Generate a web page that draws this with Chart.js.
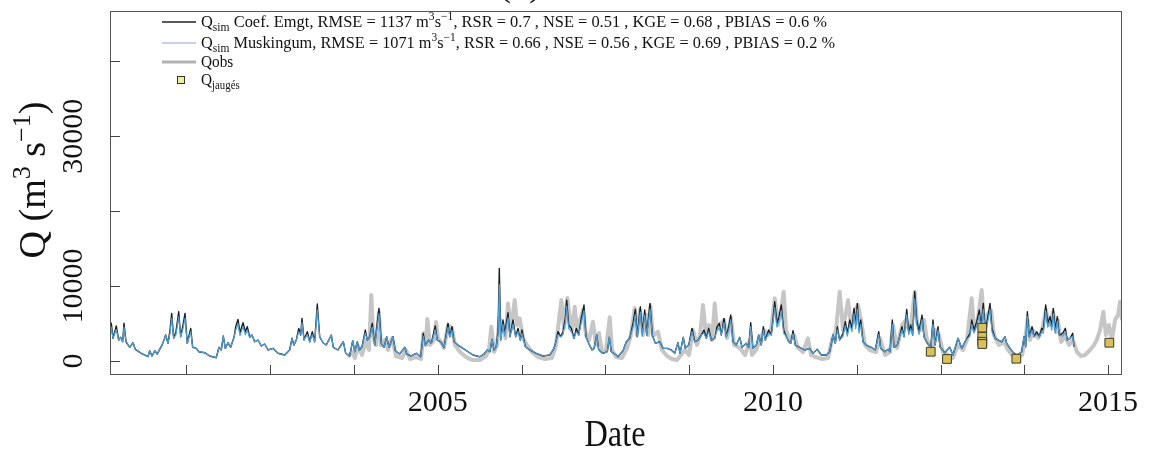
<!DOCTYPE html>
<html>
<head>
<meta charset="utf-8">
<script src="https://cdn.jsdelivr.net/npm/chart.js@4/dist/chart.umd.min.js"></script>
<style>
  html, body { margin: 0; padding: 0; background: #fff; }
  canvas { display: block; }
</style>
</head>
<body>
<canvas id="chart" width="1149" height="453"></canvas>
<script>
// simulated discharge (decimal year, m3/s)
const simYears = [
  2000.112, 2000.131, 2000.157, 2000.206, 2000.242, 2000.271, 2000.301, 2000.321, 2000.351, 2000.406,
  2000.455, 2000.489, 2000.579, 2000.679, 2000.704, 2000.738, 2000.779, 2000.817, 2000.853, 2000.888,
  2000.917, 2000.943, 2000.977, 2001.007, 2001.032, 2001.062, 2001.096, 2001.137, 2001.166, 2001.196,
  2001.231, 2001.265, 2001.316, 2001.345, 2001.399, 2001.435, 2001.524, 2001.599, 2001.697, 2001.738,
  2001.772, 2001.802, 2001.832, 2001.872, 2001.912, 2001.962, 2001.987, 2002.021, 2002.051, 2002.096,
  2002.130, 2002.160, 2002.196, 2002.230, 2002.270, 2002.320, 2002.369, 2002.419, 2002.469, 2002.543,
  2002.618, 2002.718, 2002.792, 2002.827, 2002.856, 2002.891, 2002.927, 2002.956, 2002.976, 2003.006,
  2003.055, 2003.091, 2003.129, 2003.165, 2003.204, 2003.240, 2003.289, 2003.338, 2003.413, 2003.443,
  2003.513, 2003.592, 2003.628, 2003.687, 2003.732, 2003.762, 2003.801, 2003.831, 2003.871, 2003.920,
  2003.950, 2003.986, 2004.024, 2004.060, 2004.124, 2004.159, 2004.199, 2004.239, 2004.274, 2004.333,
  2004.368, 2004.433, 2004.508, 2004.538, 2004.606, 2004.681, 2004.746, 2004.785, 2004.815, 2004.866,
  2004.905, 2004.964, 2004.994, 2005.045, 2005.094, 2005.154, 2005.179, 2005.213, 2005.243, 2005.303,
  2005.377, 2005.452, 2005.527, 2005.626, 2005.691, 2005.740, 2005.780, 2005.810, 2005.840, 2005.874,
  2005.899, 2005.919, 2005.940, 2005.974, 2005.999, 2006.049, 2006.078, 2006.123, 2006.163, 2006.198,
  2006.232, 2006.257, 2006.307, 2006.372, 2006.471, 2006.571, 2006.671, 2006.735, 2006.769, 2006.794,
  2006.835, 2006.869, 2006.903, 2006.924, 2006.954, 2006.993, 2007.033, 2007.067, 2007.103, 2007.142,
  2007.182, 2007.212, 2007.252, 2007.302, 2007.331, 2007.372, 2007.402, 2007.466, 2007.530, 2007.560,
  2007.590, 2007.664, 2007.689, 2007.764, 2007.813, 2007.864, 2007.913, 2007.948, 2007.977, 2008.022,
  2008.052, 2008.088, 2008.118, 2008.167, 2008.201, 2008.246, 2008.311, 2008.361, 2008.425, 2008.485,
  2008.535, 2008.584, 2008.614, 2008.663, 2008.693, 2008.744, 2008.793, 2008.834, 2008.883, 2008.932,
  2008.972, 2009.007, 2009.042, 2009.081, 2009.132, 2009.166, 2009.200, 2009.230, 2009.271, 2009.305,
  2009.341, 2009.371, 2009.405, 2009.454, 2009.505, 2009.539, 2009.603, 2009.639, 2009.669, 2009.703,
  2009.752, 2009.788, 2009.827, 2009.857, 2009.887, 2009.937, 2009.976, 2010.027, 2010.061, 2010.091,
  2010.125, 2010.161, 2010.200, 2010.236, 2010.266, 2010.300, 2010.334, 2010.400, 2010.474, 2010.549,
  2010.598, 2010.662, 2010.722, 2010.797, 2010.847, 2010.897, 2010.931, 2010.961, 2010.996, 2011.046,
  2011.080, 2011.110, 2011.146, 2011.180, 2011.210, 2011.235, 2011.259, 2011.284, 2011.310, 2011.344,
  2011.393, 2011.468, 2011.527, 2011.578, 2011.608, 2011.668, 2011.717, 2011.747, 2011.781, 2011.806,
  2011.856, 2011.896, 2011.926, 2011.956, 2011.996, 2012.026, 2012.056, 2012.085, 2012.115, 2012.145,
  2012.179, 2012.224, 2012.254, 2012.303, 2012.354, 2012.388, 2012.418, 2012.463, 2012.492, 2012.563,
  2012.637, 2012.686, 2012.761, 2012.816, 2012.880, 2012.940, 2012.965, 2013.000, 2013.040, 2013.079,
  2013.104, 2013.138, 2013.168, 2013.198, 2013.238, 2013.268, 2013.313, 2013.362, 2013.413, 2013.462,
  2013.487, 2013.537, 2013.586, 2013.646, 2013.711, 2013.746, 2013.771, 2013.795, 2013.825, 2013.865,
  2013.895, 2013.935, 2013.974, 2014.010, 2014.033, 2014.069, 2014.099, 2014.133, 2014.159, 2014.182,
  2014.212, 2014.242, 2014.272, 2014.323, 2014.362, 2014.391, 2014.432, 2014.472, 2014.491,
];
const qCoefEmgt = [
  3240, 5030, 3030, 4670, 2800, 3160, 2570, 5030, 2570, 1830,
  2440, 1560, 1030, 570, 1370, 670, 1370, 930, 1560, 2130,
  2800, 3470, 2360, 4130, 6360, 3030, 3910, 6570, 3240, 4570,
  6360, 2360, 4360, 1830, 1690, 1240, 1110, 670, 440, 1830,
  1470, 3330, 1690, 2440, 1830, 3160, 4570, 5560, 3770, 5110,
  3910, 4570, 3160, 3470, 2570, 2800, 2000, 2270, 1470, 1690,
  1030, 800, 1470, 3030, 2130, 2800, 4360, 3470, 5690, 2800,
  3910, 2570, 3910, 2570, 7600, 3240, 2440, 2130, 3470, 1830,
  1470, 2570, 1030, 670, 2710, 1240, 2570, 1470, 1910, 4130,
  2800, 3240, 5030, 2130, 7030, 2360, 1830, 3240, 1830, 3240,
  1370, 930, 1830, 930, 670, 1030, 570, 3690, 2130, 2800,
  2360, 4670, 2800, 2570, 1830, 5030, 3240, 4570, 2570, 2130,
  1690, 1240, 800, 570, 930, 1470, 1240, 2890, 1470, 1910,
  3910, 12360, 2800, 5470, 3690, 6440, 3240, 5470, 3240, 4360,
  2800, 4130, 1910, 1470, 1030, 670, 800, 1690, 2800, 3910,
  3240, 3910, 5690, 8130, 4800, 4360, 3030, 4360, 3470, 5690,
  7470, 3240, 2360, 1470, 1690, 3470, 1470, 1030, 1240, 3160,
  1240, 800, 570, 1370, 2570, 3030, 5030, 6890, 3240, 7240,
  3690, 6800, 3470, 7690, 3470, 2360, 2570, 1690, 1690, 1470,
  1030, 2440, 1030, 3160, 1690, 2130, 4360, 2570, 2800, 3470,
  4130, 3030, 4360, 2800, 3030, 4570, 5030, 3470, 5690, 3240,
  4570, 6130, 2570, 2130, 3160, 1830, 2360, 1830, 5110, 1690,
  2130, 3470, 2130, 4570, 2800, 4130, 3470, 7910, 5030, 5910,
  7470, 4130, 3240, 2570, 2360, 4040, 2130, 1830, 1470, 1690,
  1030, 1560, 800, 800, 1240, 3470, 2360, 4570, 2800, 3690,
  5240, 3690, 5470, 4360, 7030, 4800, 7690, 4130, 5470, 2570,
  2130, 1830, 1470, 3910, 1690, 1240, 1560, 1240, 5470, 1830,
  2130, 3470, 4570, 3240, 6890, 3910, 4800, 3470, 9240, 5470,
  3910, 6130, 3240, 2360, 1830, 5470, 2130, 4570, 1910, 1110,
  1830, 800, 3030, 1690, 2800, 3690, 5470, 4130, 5240, 6800,
  4570, 7690, 4130, 5470, 7690, 4360, 3030, 2800, 2570, 3240,
  2360, 1690, 1110, 800, 1240, 3240, 1910, 6570, 3240, 4570,
  3240, 3910, 3240, 4360, 4130, 7470, 5030, 5910, 4570, 7030,
  4130, 5910, 3470, 3690, 4360, 2800, 3030, 3690, 1910,
];
const qMuskingum = [
  3240, 4530, 3030, 4200, 2800, 3160, 2570, 4530, 2570, 1830,
  2440, 1560, 1030, 570, 1370, 670, 1370, 930, 1560, 2130,
  2800, 3470, 2360, 3720, 5720, 3030, 3520, 5910, 3240, 4110,
  5720, 2360, 3920, 1830, 1690, 1240, 1110, 670, 440, 1830,
  1470, 3330, 1690, 2440, 1830, 3160, 4110, 5000, 3390, 4600,
  3520, 4110, 3160, 3470, 2570, 2800, 2000, 2270, 1470, 1690,
  1030, 800, 1470, 3030, 2130, 2800, 3920, 3470, 5120, 2800,
  3520, 2570, 3520, 2570, 6840, 3240, 2440, 2130, 3470, 1830,
  1470, 2570, 1030, 670, 2710, 1240, 2570, 1470, 1910, 3720,
  2800, 3240, 4530, 2130, 6330, 2360, 1830, 3240, 1830, 3240,
  1370, 930, 1830, 930, 670, 1030, 570, 3320, 2130, 2800,
  2360, 4200, 2800, 2570, 1830, 4530, 3240, 4110, 2570, 2130,
  1690, 1240, 800, 570, 930, 1470, 1240, 2890, 1470, 1910,
  3520, 10200, 2800, 4920, 3320, 5800, 3240, 4920, 3240, 3920,
  2800, 3720, 1910, 1470, 1030, 670, 800, 1690, 2800, 3520,
  3240, 3520, 5120, 7320, 4320, 3920, 3030, 3920, 3470, 5120,
  6720, 3240, 2360, 1470, 1690, 3470, 1470, 1030, 1240, 3160,
  1240, 800, 570, 1370, 2570, 3030, 4530, 6200, 3240, 6520,
  3320, 6120, 3470, 6920, 3470, 2360, 2570, 1690, 1690, 1470,
  1030, 2440, 1030, 3160, 1690, 2130, 3920, 2570, 2800, 3470,
  3720, 3030, 3920, 2800, 3030, 4110, 4530, 3470, 5120, 3240,
  4110, 5520, 2570, 2130, 3160, 1830, 2360, 1830, 4600, 1690,
  2130, 3470, 2130, 4110, 2800, 3720, 3470, 7120, 4530, 5320,
  6720, 3720, 3240, 2570, 2360, 3640, 2130, 1830, 1470, 1690,
  1030, 1560, 800, 800, 1240, 3470, 2360, 4110, 2800, 3320,
  4720, 3320, 4920, 3920, 6330, 4320, 6920, 3720, 4920, 2570,
  2130, 1830, 1470, 3520, 1690, 1240, 1560, 1240, 4920, 1830,
  2130, 3470, 4110, 3240, 6200, 3520, 4320, 3470, 8320, 4920,
  3520, 5520, 3240, 2360, 1830, 4920, 2130, 4110, 1910, 1110,
  1830, 800, 3030, 1690, 2800, 3320, 4920, 3720, 4720, 6120,
  4110, 6920, 3720, 4920, 6920, 3920, 3030, 2800, 2570, 3240,
  2360, 1690, 1110, 800, 1240, 3240, 1910, 5910, 3240, 4110,
  3240, 3520, 3240, 3920, 3720, 6720, 4530, 5320, 4110, 6330,
  3720, 5320, 3470, 3320, 3920, 2800, 3030, 3320, 1910,
];

// observed discharge
const obsYears = [
  2003.662, 2003.722, 2003.766, 2003.811, 2003.871, 2003.931, 2003.975, 2004.010, 2004.035, 2004.080,
  2004.124, 2004.154, 2004.214, 2004.259, 2004.318, 2004.378, 2004.468, 2004.527, 2004.587, 2004.676,
  2004.751, 2004.788, 2004.825, 2004.845, 2004.885, 2004.945, 2004.975, 2005.004, 2005.049, 2005.094,
  2005.154, 2005.213, 2005.258, 2005.333, 2005.422, 2005.512, 2005.631, 2005.720, 2005.765, 2005.800,
  2005.840, 2005.885, 2005.922, 2005.974, 2006.011, 2006.049, 2006.093, 2006.149, 2006.183, 2006.223,
  2006.272, 2006.332, 2006.407, 2006.496, 2006.601, 2006.705, 2006.765, 2006.809, 2006.844, 2006.884,
  2006.933, 2006.973, 2007.003, 2007.044, 2007.078, 2007.123, 2007.167, 2007.212, 2007.257, 2007.316,
  2007.361, 2007.406, 2007.451, 2007.510, 2007.566, 2007.600, 2007.660, 2007.749, 2007.824, 2007.883,
  2007.938, 2007.973, 2008.018, 2008.062, 2008.107, 2008.137, 2008.174, 2008.211, 2008.286, 2008.346,
  2008.420, 2008.495, 2008.569, 2008.629, 2008.689, 2008.748, 2008.808, 2008.868, 2008.913, 2008.957,
  2009.002, 2009.047, 2009.092, 2009.132, 2009.166, 2009.211, 2009.271, 2009.315, 2009.375, 2009.420,
  2009.509, 2009.584, 2009.658, 2009.688, 2009.748, 2009.807, 2009.867, 2009.927, 2009.972, 2010.027,
  2010.076, 2010.121, 2010.161, 2010.195, 2010.255, 2010.315, 2010.374, 2010.449, 2010.523, 2010.568,
  2010.643, 2010.732, 2010.822, 2010.881, 2010.941, 2010.996, 2011.046, 2011.120, 2011.165, 2011.225,
  2011.269, 2011.314, 2011.374, 2011.448, 2011.538, 2011.597, 2011.672, 2011.747, 2011.791, 2011.851,
  2011.926, 2011.985, 2012.030, 2012.060, 2012.115, 2012.149, 2012.209, 2012.254, 2012.298, 2012.373,
  2012.418, 2012.477, 2012.537, 2012.612, 2012.686, 2012.761, 2012.835, 2012.895, 2012.965, 2013.000,
  2013.059, 2013.114, 2013.149, 2013.193, 2013.253, 2013.298, 2013.372, 2013.447, 2013.507, 2013.581,
  2013.656, 2013.716, 2013.760, 2013.798, 2013.835, 2013.880, 2013.954, 2014.014, 2014.073, 2014.118,
  2014.178, 2014.223, 2014.252, 2014.297, 2014.357, 2014.417, 2014.476, 2014.536, 2014.596, 2014.655,
  2014.730, 2014.790, 2014.830, 2014.879, 2014.928, 2014.968, 2015.013, 2015.058, 2015.103, 2015.148,
  2015.177, 2015.207,
];
const qObs = [
  530, 1200, 400, 2000, 800, 2800, 1470, 8800, 3470, 2130,
  6530, 2130, 2800, 1470, 3070, 670, 400, 1470, 270, 530,
  270, 3730, 2130, 5600, 2130, 2800, 5200, 3070, 2530, 1730,
  4800, 4400, 2130, 1200, 530, 130, 130, 670, 1470, 4570,
  1200, 2130, 5730, 4800, 3070, 7690, 4130, 8130, 4800, 5690,
  3070, 2130, 1200, 530, 270, 400, 2130, 5470, 8130, 4400,
  8400, 5470, 4130, 7240, 4130, 5470, 6800, 3470, 2800, 5240,
  2130, 3730, 1200, 1470, 5830, 1470, 530, 400, 1730, 3470,
  7030, 3470, 6800, 3470, 6130, 3470, 7330, 3330, 3910, 1470,
  670, 270, 130, 800, 1470, 800, 4130, 2130, 3470, 7470,
  3470, 4800, 2800, 7690, 4130, 4800, 5470, 3070, 5730, 2130,
  1730, 800, 2800, 800, 1470, 2800, 4130, 3470, 4130, 8360,
  4800, 6800, 9240, 4130, 2800, 3470, 1730, 1200, 3030, 800,
  530, 270, 400, 2800, 4130, 9240, 4130, 8130, 4800, 6800,
  7470, 5470, 2130, 1470, 1200, 3070, 800, 1200, 4800, 1730,
  4800, 5470, 4130, 4800, 9240, 5200, 4130, 5470, 2800, 1730,
  4130, 3470, 1200, 800, 400, 2130, 1470, 2800, 8360, 4130,
  5730, 9470, 4800, 6130, 6800, 3470, 2130, 2530, 1470, 670,
  400, 800, 2800, 5470, 2800, 4130, 3070, 4130, 6800, 4800,
  6530, 3870, 5470, 2530, 3330, 2130, 2800, 1200, 670, 800,
  1470, 2130, 2800, 4130, 6570, 3470, 4800, 2800, 5470, 6130,
  7910, 5470,
];

// gauged discharge measurements
const gaugedYears = [2012.354, 2012.597, 2013.123, 2013.123, 2013.123, 2013.123, 2013.631, 2015.018];
const qGauged = [1240, 270, 4440, 3240, 2570, 2270, 310, 2440];

const xTickYears = [2001.25, 2002.5, 2003.75, 2005, 2006.25, 2007.5, 2008.75, 2010, 2011.25, 2012.5, 2013.75, 2015];
const xLabelYears = [2005, 2010, 2015];
const yTicks = [0, 10000, 20000, 30000, 40000];
const yLabels = [0, 10000, 30000];

const legendRows = [
  [["Q"], ["sim", "sub"], [" Coef. Emgt, RMSE = 1137 m"], ["3", "sup"], ["s"], ["\u22121", "sup"],
   [", RSR = 0.7 , NSE = 0.51 , KGE = 0.68 , PBIAS = 0.6 %"]],
  [["Q"], ["sim", "sub"], [" Muskingum, RMSE = 1071 m"], ["3", "sup"], ["s"], ["\u22121", "sup"],
   [", RSR = 0.66 , NSE = 0.56 , KGE = 0.69 , PBIAS = 0.2 %"]],
  [["Qobs"]],
  [["Q"], ["jaugés", "sub"]],
];

const SERIF = '"Liberation Serif", "Times New Roman", serif';
const pts = (xs, ys) => xs.map((x, i) => ({ x, y: ys[i] }));

function partFont(size, kind) {
  return `${kind ? Math.round(size * 0.68) : size}px ${SERIF}`;
}

function richWidth(ctx, parts, size) {
  let w = 0;
  for (const [t, kind] of parts) {
    ctx.font = partFont(size, kind);
    w += ctx.measureText(t).width;
  }
  return w;
}

// draws mixed normal / sub / sup text; y is the baseline
function drawRich(ctx, parts, size, x, y, align, sx) {
  const w = richWidth(ctx, parts, size) * sx;
  const startX = align === "center" ? x - w / 2 : x;
  ctx.save();
  ctx.translate(startX, y);
  ctx.scale(sx, 1);
  ctx.textBaseline = "alphabetic";
  ctx.textAlign = "left";
  let px = 0;
  for (const [t, kind] of parts) {
    ctx.font = partFont(size, kind);
    const dy = kind === "sup" ? -size * 0.4 : kind === "sub" ? size * 0.22 : 0;
    ctx.fillText(t, px, dy);
    px += ctx.measureText(t).width;
  }
  ctx.restore();
}

const frame = {
  id: "frame",
  afterDraw(chart) {
    const ctx = chart.ctx;
    const { left, right, top, bottom } = chart.chartArea;
    const xs = chart.scales.x;
    const ys = chart.scales.y;
    ctx.save();
    ctx.fillStyle = "#111";

    // cut-off panel title
    ctx.font = `40px ${SERIF}`;
    ctx.textAlign = "center";
    ctx.fillText("(a)", 520, -5);

    // box
    ctx.strokeStyle = "#555";
    ctx.lineWidth = 1;
    ctx.strokeRect(left + 0.5, top + 0.5, right - left - 1, bottom - top - 1);

    // inward ticks
    ctx.strokeStyle = "#444";
    ctx.beginPath();
    for (const v of yTicks) {
      const py = Math.round(ys.getPixelForValue(v)) + 0.5;
      ctx.moveTo(left, py);
      ctx.lineTo(left + 10, py);
    }
    for (const v of xTickYears) {
      const px = Math.round(xs.getPixelForValue(v)) + 0.5;
      ctx.moveTo(px, bottom);
      ctx.lineTo(px, bottom - 10);
    }
    ctx.stroke();

    // tick labels
    ctx.textAlign = "center";
    ctx.textBaseline = "alphabetic";
    ctx.font = `30px ${SERIF}`;
    for (const v of xLabelYears) {
      ctx.fillText(String(v), xs.getPixelForValue(v), 411);
    }
    for (const v of yLabels) {
      ctx.save();
      ctx.translate(82, ys.getPixelForValue(v));
      ctx.rotate(-Math.PI / 2);
      ctx.fillText(String(v), 0, 0);
      ctx.restore();
    }

    // axis titles
    drawRich(ctx, [["Date"]], 38, 615, 446, "center", 0.85);
    ctx.save();
    ctx.translate(45, 180);
    ctx.rotate(-Math.PI / 2);
    drawRich(ctx, [["Q (m"], ["3", "sup"], [" s"], ["\u22121", "sup"], [")"]], 38, 0, 0, "center", 1);
    ctx.restore();

    // legend
    const rowY = [22, 43, 62, 80];
    const fitW = [626, 634, 0, 0];
    const size = 17;
    legendRows.forEach((parts, i) => {
      const natural = richWidth(ctx, parts, size);
      const sx = fitW[i] ? fitW[i] / natural : 0.9;
      ctx.fillStyle = "#111";
      drawRich(ctx, parts, size, 201, rowY[i] + 5, "left", sx);
    });
    ctx.lineCap = "butt";
    ctx.strokeStyle = "#222";
    ctx.lineWidth = 1.5;
    ctx.beginPath(); ctx.moveTo(162, rowY[0]); ctx.lineTo(196, rowY[0]); ctx.stroke();
    ctx.strokeStyle = "#8f9fe8";
    ctx.lineWidth = 1.2;
    ctx.beginPath(); ctx.moveTo(162, rowY[1]); ctx.lineTo(196, rowY[1]); ctx.stroke();
    ctx.strokeStyle = "#b3b3b3";
    ctx.lineWidth = 3;
    ctx.beginPath(); ctx.moveTo(162, rowY[2]); ctx.lineTo(196, rowY[2]); ctx.stroke();
    ctx.fillStyle = "#ecef9c";
    ctx.strokeStyle = "#333";
    ctx.lineWidth = 1;
    ctx.fillRect(177, rowY[3] - 4, 8, 8);
    ctx.strokeRect(177.5, rowY[3] - 3.5, 7, 7);

    ctx.restore();
  },
};

new Chart(document.getElementById("chart"), {
  type: "line",
  data: {
    datasets: [
      {
        label: "Qjaugés",
        data: pts(gaugedYears, qGauged),
        showLine: false,
        pointStyle: "rect",
        pointRadius: 6.2,
        backgroundColor: "#d8c15c",
        borderColor: "#3d3a22",
        borderWidth: 1,
        order: 0,
      },
      {
        label: "Qsim Muskingum",
        data: pts(simYears, qMuskingum),
        borderColor: "#4d9fd8",
        borderWidth: 1.2,
        pointRadius: 0,
        order: 1,
      },
      {
        label: "Qsim Coef. Emgt",
        data: pts(simYears, qCoefEmgt),
        borderColor: "#1c1c1c",
        borderWidth: 1.4,
        pointRadius: 0,
        order: 2,
      },
      {
        label: "Qobs",
        data: pts(obsYears, qObs),
        borderColor: "rgba(160,160,160,0.6)",
        borderWidth: 4,
        pointRadius: 0,
        order: 3,
      },
    ],
  },
  options: {
    responsive: false,
    animation: false,
    parsing: false,
    devicePixelRatio: 1,
    layout: { padding: { left: 110, right: 27, top: 11, bottom: 78 } },
    elements: { line: { tension: 0, borderJoinStyle: "round" } },
    plugins: { legend: { display: false }, tooltip: { enabled: false } },
    scales: {
      x: { type: "linear", min: 2000.112, max: 2015.207, display: false },
      y: { type: "linear", min: -1867, max: 46707, display: false },
    },
  },
  plugins: [frame],
});
</script>
</body>
</html>
